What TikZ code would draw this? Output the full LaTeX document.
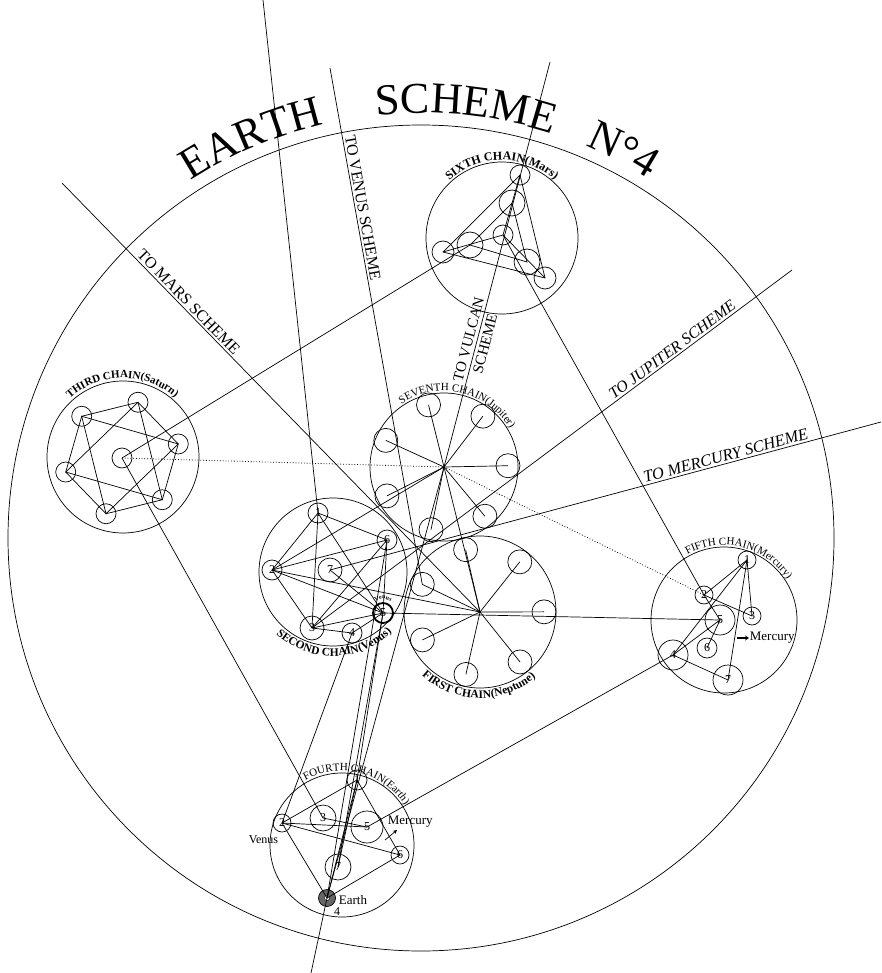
\documentclass[tikz,border=0pt]{standalone}
\usepackage{fontspec}
\setmainfont{Liberation Serif}
\usetikzlibrary{decorations.text,arrows.meta}
\begin{document}
\begin{tikzpicture}[x=1pt,y=1pt,line width=0.7pt,
  orb/.style={circle,draw,inner sep=0pt,minimum size=#1,font=\fontsize{12}{12}\selectfont},
  dots/.style={dotted,line width=0.8pt},
  schm/.style={font=\fontsize{16}{16}\selectfont,inner sep=2pt,sloped,above},
  schmi/.style={schm,font=\fontsize{16}{16}\selectfont\itshape},
  txt/.style={font=\fontsize{13}{13}\selectfont,inner sep=0.5pt},
  arclbl/.style={decorate,decoration={text along path,text align=center,text={#1}}}]
\useasboundingbox (0,0) rectangle (881,-973);
\fill[white] (0,0) rectangle (881,-973);

% ---------- main circle and title
\node[orb=826pt] (big) at (421,-538) {};
\path[arclbl={|\fontsize{44}{44}\selectfont|EARTH}] ([shift={(126:425)}]big.center) arc[start angle=126,end angle=100,radius=425];
\path[arclbl={|\fontsize{44}{44}\selectfont|SCHEME}] ([shift={(101:425)}]big.center) arc[start angle=101,end angle=67,radius=425];
\path[arclbl={|\fontsize{44}{44}\selectfont|N°4}] ([shift={(74:425)}]big.center) arc[start angle=74,end angle=51,radius=425];

% ---------- free ends of the long lines
\coordinate (tA) at (263,0);
\coordinate (tVen) at (330,-68);
\coordinate (tMars) at (62,-183);
\coordinate (tVulT) at (550,-62);
\coordinate (tVulB) at (311,-973);
\coordinate (tJup) at (792,-270);
\coordinate (tMer) at (881,-422);

% ---------- sixth chain (Mars)
\node[orb=152pt] (c6) at (502,-238) {};
\node[orb=20pt] (s6t) at (520,-175) {};
\node[orb=26pt] (s6b) at (512,-203) {};
\node[orb=20pt] (s6c) at (503,-235) {};
\node[orb=22pt] (s6l) at (443,-252) {};
\node[orb=26pt] (s6lm) at (470,-245) {};
\node[orb=26pt] (s6rm) at (527,-262) {};
\node[orb=22pt] (s6r) at (545,-278) {};
\draw (s6t.center) -- (s6l.center) -- (s6r.center) -- cycle;
\draw (s6t.center) -- (s6c.center);
\draw (s6l.center) -- (s6c.center) -- (s6r.center);
\draw (s6b.center) -- (s6lm.center) -- (s6rm.center) -- cycle;
\path[arclbl={|\fontsize{12}{12}\selectfont\bfseries|SIXTH CHAIN(Mars)}] ([shift={(165:78)}]c6.center) arc[start angle=165,end angle=15,radius=78];

% ---------- third chain (Saturn)
\node[orb=152pt] (c3) at (123,-457) {};
\node[orb=20pt] (g0) at (122,-458) {};
\foreach \k in {1,...,6}{\pgfmathsetmacro\ang{14+60*(\k-1)}
  \node[orb=20pt] (g\k) at ([shift={(\ang:58)}]g0.center) {};}
\draw (g1.center) -- (g2.center) -- (g3.center) -- (g4.center) -- (g5.center) -- (g6.center) -- cycle;
\draw (g2.center) -- (g4.center) -- (g6.center) -- cycle;
\draw (g1.center) -- (g3.center) -- (g5.center) -- cycle;
\path[arclbl={|\fontsize{11}{11}\selectfont\bfseries|THIRD CHAIN(Saturn)}] ([shift={(165:79)}]c3.center) arc[start angle=165,end angle=16,radius=79];

% ---------- seventh chain (Jupiter)
\node[orb=148pt] (c7) at (444,-467) {};
\foreach \k in {0,...,6}{\pgfmathsetmacro\ang{104-51.4286*\k}
  \node[orb=24pt] (h\k) at ([shift={(\ang:64)}]c7.center) {};
  \draw (c7.center) -- (h\k.center);}
\path[arclbl={|\fontsize{11}{11}\selectfont|SEVENTH CHAIN(Jupiter)}] ([shift={(152:76)}]c7.center) arc[start angle=152,end angle=2,radius=76];

% ---------- first chain (Neptune)
\node[orb=152pt] (c1) at (480,-612) {};
\foreach \k in {0,...,6}{\pgfmathsetmacro\ang{103-51.4286*\k}
  \node[orb=24pt] (p\k) at ([shift={(\ang:64)}]c1.center) {};
  \draw (c1.center) -- (p\k.center);}
\path[arclbl={|\fontsize{11.5}{11.5}\selectfont\bfseries|FIRST CHAIN(Neptune)}] ([shift={(-166:86)}]c1.center) arc[start angle=-166,end angle=-16,radius=86];

% ---------- second chain (Venus)
\node[orb=148pt] (c2) at (333,-572) {};
\node[orb=20pt] (n1) at (318,-513) {1};
\node[orb=20pt] (n6) at (387,-540) {6};
\node[orb=20pt] (n2) at (272,-570) {2};
\node[orb=24pt] (n7) at (330,-570) {7};
\node[orb=24pt] (n3) at (312,-628) {3};
\node[orb=20pt] (n4) at (352,-633) {4};
\node[orb=20pt,line width=1.8pt] (n5) at (383,-613) {5};
\draw (n1.center) -- (n6.center) -- (n5.center) -- (n3.center) -- (n2.center) -- cycle;
\draw (n1.center) -- (n3.center);
\draw (n1.center) -- (n5.center);
\draw (n2.center) -- (n6.center);
\draw (n2.center) -- (n5.center);
\draw (n6.center) -- (n3.center);
\draw (n3.center) -- (n4.center) -- (n5.center);
\draw (n7.center) -- (n5.center);
\path[arclbl={|\fontsize{6}{6}\selectfont\bfseries|Venus}] ([shift={(160:14)}]n5.center) arc[start angle=160,end angle=20,radius=14];
\path[arclbl={|\fontsize{11.5}{11.5}\selectfont\bfseries|SECOND CHAIN(Venus)}] ([shift={(-164:84)}]c2.center) arc[start angle=-164,end angle=-14,radius=84];

% ---------- fifth chain (Mercury)
\node[orb=146pt] (c5) at (724,-620) {};
\node[orb=18pt] (f1) at (747,-560) {1};
\node[orb=18pt] (f2) at (704,-595) {2};
\node[orb=30pt] (f5) at (720,-620) {5};
\node[orb=18pt] (f3) at (752,-616) {3};
\node[orb=20pt] (f6) at (707,-648) {6};
\node[orb=30pt] (f4) at (673,-655) {4};
\node[orb=30pt] (f7) at (728,-680) {7};
\draw (f1.center) -- (f2.center) -- (f3.center) -- cycle;
\draw (f1.center) -- (f4.center) -- (f7.center) -- cycle;
\draw (f4.center) -- (f5.center) -- (f6.center);
\draw (f2.center) -- (f5.center);
\path[arclbl={|\fontsize{11}{11}\selectfont|FIFTH CHAIN(Mercury)}] ([shift={(151:75)}]c5.center) arc[start angle=151,end angle=1,radius=75];
\node[txt,anchor=west] (merc5) at (749,-638) {Mercury};
\draw[line width=1.8pt,-{Stealth[length=4pt,width=5pt]}] ([xshift=-12pt]merc5.west) -- (merc5.west);

% ---------- fourth chain (Earth)
\node[orb=144pt] (c4) at (342,-845) {};
\node[orb=20pt] (e1) at (357,-780) {1};
\node[orb=18pt] (e2) at (282,-823) {2};
\node[orb=26pt] (e3) at (323,-818) {3};
\node[orb=32pt] (e5) at (367,-827) {5};
\node[orb=18pt] (e6) at (400,-855) {6};
\node[orb=26pt] (e7) at (338,-867) {7};
\node[circle,draw,fill=black!60,minimum size=17pt,inner sep=0pt] (earthg) at (327,-898) {};
\node[circle,draw,fill=white,line width=0.4pt,minimum size=5pt,inner sep=0pt] (earthh) at (earthg.center) {};
\draw (e2.center) -- (e1.center) -- (e6.center) -- (e2.center);
\draw (e2.center) -- (earthg.center) -- (e6.center);
\draw (e1.center) -- (earthg.center);
\draw (e1.center) -- (e7.center);
\draw (e3.center) -- (e5.center);
\draw (e2.center) -- (e5.center);
\path[arclbl={|\fontsize{11}{11}\selectfont|FOURTH CHAIN(Earth)}] ([shift={(151:74)}]c4.center) arc[start angle=151,end angle=1,radius=74];
\node[txt,anchor=east,font=\fontsize{12}{12}\selectfont] (venus4) at (279,-840) {Venus};
\node[txt,anchor=west] (earthl) at (338,-900) {Earth};
\node[txt,font=\fontsize{12}{12}\selectfont] (four) at (337,-912) {4};
\node[txt,anchor=west] (merc4) at (387,-822) {Mercury};
\coordinate (ma) at (385,-840);
\coordinate (mb) at (397,-830);
\draw[-{Stealth[length=4pt,width=4pt]}] (ma) -- (mb);

% ---------- long lines
\draw (tA) -- (n1.center);
\draw (tVen) -- (p6.center) node[schm,pos=0.273] {TO VENUS SCHEME};
\draw (tMars) -- (c1.center) node[schm,pos=0.29] {TO MARS SCHEME};
\draw (tVulT) -- (c7.center) node[pos=0.69,sloped,align=center,inner sep=1pt,font=\fontsize{15}{17}\selectfont] {TO VULCAN\\SCHEME} -- (earthg.center) -- (tVulB);
\draw (tJup) -- (n3.center) node[schmi,pos=0.24] {TO JUPITER SCHEME};
\draw (tMer) -- (n7.center) node[schmi,font=\fontsize{16.5}{16.5}\selectfont\itshape,pos=0.278] {TO MERCURY SCHEME};
\draw (n5.center) -- (f5.center);
\draw (s6c.center) -- (f2.center);
\draw (g0.center) -- (s6lm.center);
\draw (g0.center) -- (e3.center);
\draw[dots] (g0.center) -- (c7.center) -- (f2.center);
\draw (c7.center) -- (n2.center);
\draw (c7.center) -- (c1.center);
\draw (n2.center) -- (c1.center);
\draw (n6.center) -- (earthg.center);
\draw (n5.center) -- (e1.center);
\draw (n5.center) -- (e7.center);
\draw (n4.center) -- (e2.center);
\draw (f4.center) -- (e5.center);
\end{tikzpicture}
\end{document}
